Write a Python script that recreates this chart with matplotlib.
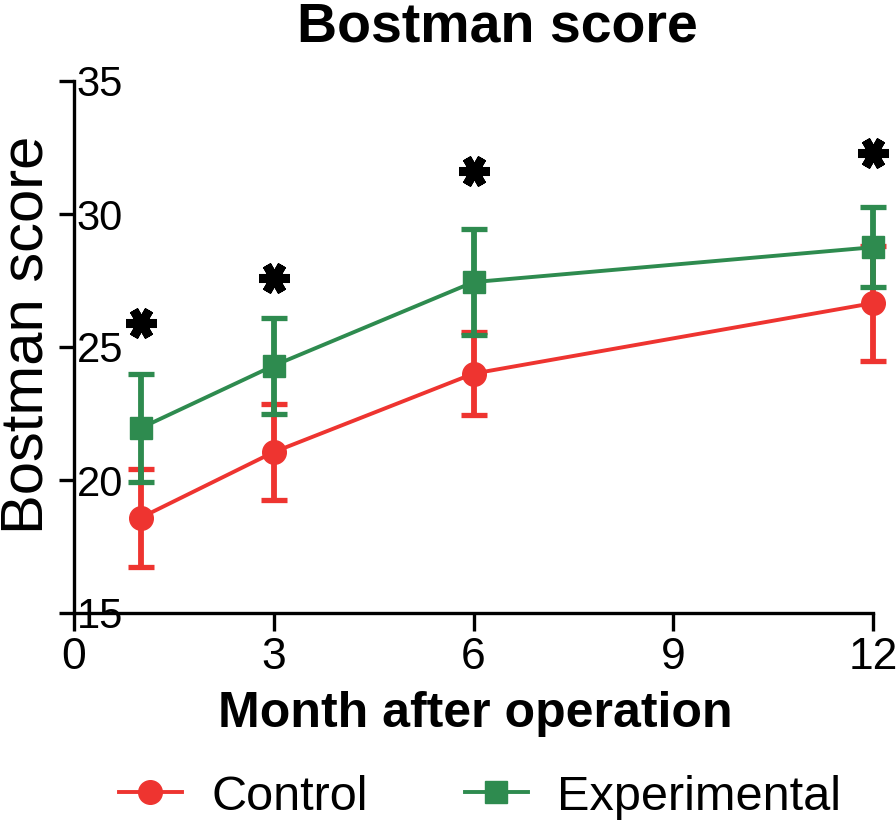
import matplotlib
matplotlib.use("Agg")
import matplotlib.pyplot as plt
from matplotlib.lines import Line2D

plt.rcParams['font.family'] = ['Liberation Sans', 'DejaVu Sans']

months = [1, 3, 6, 12]
control_mean = [18.58, 21.05, 24.00, 26.65]
control_sd = [1.85, 1.80, 1.57, 2.16]
exp_mean = [21.95, 24.30, 27.44, 28.75]
exp_sd = [2.04, 1.80, 2.00, 1.50]
star_y = [25.9, 27.6, 31.6, 32.3]
xticks = [0, 3, 6, 9, 12]
yticks = [15, 20, 25, 30, 35]

red = '#EE3430'
green = '#2E8B4F'

W, H = 896, 825
fig = plt.figure(figsize=(W / 100, H / 100), dpi=100)
ax = fig.add_axes([74 / W, 1 - 613 / H, (873 - 74) / W, (613 - 81) / H])

c = ax.errorbar(months, control_mean, yerr=control_sd, color=red, lw=2.8,
                marker='o', ms=17, elinewidth=4.2, capsize=9.5, capthick=3.8,
                clip_on=False, zorder=3)
e = ax.errorbar(months, exp_mean, yerr=exp_sd, color=green, lw=2.8,
                marker='s', ms=15.5, elinewidth=4.2, capsize=9.5, capthick=3.8,
                clip_on=False, zorder=4)
for art in list(c.lines[1]) + list(c.lines[2]) + list(e.lines[1]) + list(e.lines[2]):
    art.set_clip_on(False)

ax.plot(months, star_y, linestyle='none', marker=(6, 2, 30), ms=22, mew=6.5,
        color='black', clip_on=False, zorder=5)

ax.set_xlim(0, 12)
ax.set_ylim(15, 35)
ax.set_xticks(xticks)
ax.set_yticks(yticks)
for s in ['top', 'right']:
    ax.spines[s].set_visible(False)
for s in ['left', 'bottom']:
    ax.spines[s].set_linewidth(2.4)

ax.tick_params(axis='y', direction='out', length=11, width=2.4, pad=-13, labelsize=30)
ax.tick_params(axis='x', direction='out', length=13, width=2.4, pad=4, labelsize=32)
for lab in ax.get_yticklabels():
    lab.set_horizontalalignment('left')

fig.text(497 / W, 1 - 41 / H, 'Bostman score', ha='center', va='baseline',
         fontsize=40, fontweight='heavy')
fig.text(27 / W, 1 - 335 / H, 'Bostman score', ha='center', va='center',
         rotation=90, fontsize=43)
fig.text(475 / W, 1 - 727 / H, 'Month after operation', ha='center', va='baseline',
         fontsize=36, fontweight='bold')

h1 = Line2D([], [], color=red, lw=2.8, marker='o', ms=17)
h2 = Line2D([], [], color=green, lw=2.8, marker='s', ms=15.5)
fig.legend([h1, h2], ['Control', 'Experimental'], loc='center',
           bbox_to_anchor=(480 / W, 1 - 797 / H), ncol=2, frameon=False,
           fontsize=35, handlelength=1.3, handletextpad=0.6, columnspacing=2.0,
           borderaxespad=0, borderpad=0)

fig.savefig('out.png', dpi=100)
